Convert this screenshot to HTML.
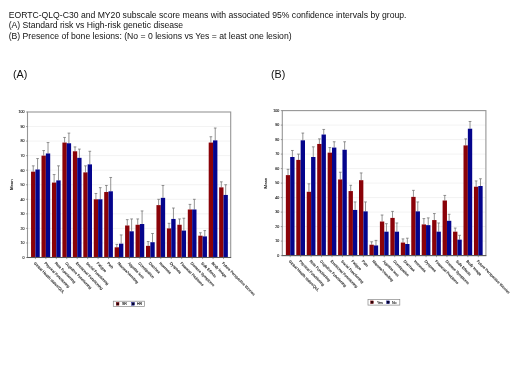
<!DOCTYPE html>
<html><head><meta charset="utf-8"><title>Figure</title>
<style>
html,body{margin:0;padding:0;background:#fff;}
body{width:520px;height:390px;overflow:hidden;position:relative;font-family:"Liberation Sans",sans-serif;}
.t{position:absolute;left:8.7px;top:10.0px;font-size:8.64px;line-height:10.25px;color:#111;white-space:nowrap;}
.l{position:absolute;font-size:10.8px;color:#111;line-height:12px;}
#w{position:absolute;left:0;top:0;width:520px;height:390px;filter:blur(0.6px);}
svg{position:absolute;left:0;top:0;font-family:"Liberation Sans",sans-serif;}
</style></head><body><div id="w">
<div class="t">EORTC-QLQ-C30 and MY20 subscale score means with associated 95% confidence intervals by group.<br>(A) Standard risk vs High-risk genetic disease<br>(B) Presence of bone lesions: (No = 0 lesions vs Yes = at least one lesion)</div>
<div class="l" style="left:12.9px;top:67.5px">(A)</div>
<div class="l" style="left:271px;top:67.5px">(B)</div>
<svg width="520" height="390" viewBox="0 0 520 390">
<line x1="27.5" y1="242.95" x2="230.7" y2="242.95" stroke="#e9e9e9" stroke-width="0.6"/>
<line x1="27.5" y1="228.40" x2="230.7" y2="228.40" stroke="#e9e9e9" stroke-width="0.6"/>
<line x1="27.5" y1="213.85" x2="230.7" y2="213.85" stroke="#e9e9e9" stroke-width="0.6"/>
<line x1="27.5" y1="199.30" x2="230.7" y2="199.30" stroke="#e9e9e9" stroke-width="0.6"/>
<line x1="27.5" y1="184.75" x2="230.7" y2="184.75" stroke="#e9e9e9" stroke-width="0.6"/>
<line x1="27.5" y1="170.20" x2="230.7" y2="170.20" stroke="#e9e9e9" stroke-width="0.6"/>
<line x1="27.5" y1="155.65" x2="230.7" y2="155.65" stroke="#e9e9e9" stroke-width="0.6"/>
<line x1="27.5" y1="141.10" x2="230.7" y2="141.10" stroke="#e9e9e9" stroke-width="0.6"/>
<line x1="27.5" y1="126.55" x2="230.7" y2="126.55" stroke="#e9e9e9" stroke-width="0.6"/>
<path d="M33.23 171.66V165.83M31.88 165.83H34.58" stroke="#707070" stroke-width="0.75" fill="none"/>
<path d="M37.57 169.47V158.56M36.22 158.56H38.92" stroke="#707070" stroke-width="0.75" fill="none"/>
<rect x="31.05" y="171.66" width="4.35" height="85.84" fill="#8a0208"/>
<rect x="35.40" y="169.47" width="4.35" height="88.03" fill="#04048c"/>
<line x1="35.40" y1="257.5" x2="35.40" y2="259.1" stroke="#666" stroke-width="0.6"/>
<text transform="translate(33.60 263.50) rotate(45.5)" font-size="3.76" fill="#111" stroke="#111" stroke-width="0.1">Global Health status/QoL</text>
<path d="M43.68 155.65V150.56M42.33 150.56H45.03" stroke="#707070" stroke-width="0.75" fill="none"/>
<path d="M48.02 153.47V142.56M46.67 142.56H49.38" stroke="#707070" stroke-width="0.75" fill="none"/>
<rect x="41.50" y="155.65" width="4.35" height="101.85" fill="#8a0208"/>
<rect x="45.85" y="153.47" width="4.35" height="104.03" fill="#04048c"/>
<line x1="45.85" y1="257.5" x2="45.85" y2="259.1" stroke="#666" stroke-width="0.6"/>
<text transform="translate(44.05 263.50) rotate(45.5)" font-size="3.76" fill="#111" stroke="#111" stroke-width="0.1">Physical Functioning</text>
<path d="M54.13 182.57V174.56M52.78 174.56H55.48" stroke="#707070" stroke-width="0.75" fill="none"/>
<path d="M58.48 180.38V165.83M57.12 165.83H59.83" stroke="#707070" stroke-width="0.75" fill="none"/>
<rect x="51.95" y="182.57" width="4.35" height="74.93" fill="#8a0208"/>
<rect x="56.30" y="180.38" width="4.35" height="77.12" fill="#04048c"/>
<line x1="56.30" y1="257.5" x2="56.30" y2="259.1" stroke="#666" stroke-width="0.6"/>
<text transform="translate(54.50 263.50) rotate(45.5)" font-size="3.76" fill="#111" stroke="#111" stroke-width="0.1">Role Functioning</text>
<path d="M64.58 142.56V137.46M63.23 137.46H65.92" stroke="#707070" stroke-width="0.75" fill="none"/>
<path d="M68.92 143.28V133.10M67.58 133.10H70.27" stroke="#707070" stroke-width="0.75" fill="none"/>
<rect x="62.40" y="142.56" width="4.35" height="114.94" fill="#8a0208"/>
<rect x="66.75" y="143.28" width="4.35" height="114.22" fill="#04048c"/>
<line x1="66.75" y1="257.5" x2="66.75" y2="259.1" stroke="#666" stroke-width="0.6"/>
<text transform="translate(64.95 263.50) rotate(45.5)" font-size="3.76" fill="#111" stroke="#111" stroke-width="0.1">Cognitive Functioning</text>
<path d="M75.02 151.28V146.92M73.67 146.92H76.37" stroke="#707070" stroke-width="0.75" fill="none"/>
<path d="M79.37 157.83V149.10M78.02 149.10H80.72" stroke="#707070" stroke-width="0.75" fill="none"/>
<rect x="72.85" y="151.28" width="4.35" height="106.22" fill="#8a0208"/>
<rect x="77.20" y="157.83" width="4.35" height="99.67" fill="#04048c"/>
<line x1="77.20" y1="257.5" x2="77.20" y2="259.1" stroke="#666" stroke-width="0.6"/>
<text transform="translate(75.40 263.50) rotate(45.5)" font-size="3.76" fill="#111" stroke="#111" stroke-width="0.1">Emotional Functioning</text>
<path d="M85.47 172.38V165.83M84.12 165.83H86.82" stroke="#707070" stroke-width="0.75" fill="none"/>
<path d="M89.82 164.38V151.28M88.47 151.28H91.17" stroke="#707070" stroke-width="0.75" fill="none"/>
<rect x="83.30" y="172.38" width="4.35" height="85.12" fill="#8a0208"/>
<rect x="87.65" y="164.38" width="4.35" height="93.12" fill="#04048c"/>
<line x1="87.65" y1="257.5" x2="87.65" y2="259.1" stroke="#666" stroke-width="0.6"/>
<text transform="translate(85.85 263.50) rotate(45.5)" font-size="3.76" fill="#111" stroke="#111" stroke-width="0.1">Social Functioning</text>
<path d="M95.92 199.30V193.48M94.58 193.48H97.27" stroke="#707070" stroke-width="0.75" fill="none"/>
<path d="M100.27 199.30V187.66M98.92 187.66H101.62" stroke="#707070" stroke-width="0.75" fill="none"/>
<rect x="93.75" y="199.30" width="4.35" height="58.20" fill="#8a0208"/>
<rect x="98.10" y="199.30" width="4.35" height="58.20" fill="#04048c"/>
<line x1="98.10" y1="257.5" x2="98.10" y2="259.1" stroke="#666" stroke-width="0.6"/>
<text transform="translate(96.30 263.50) rotate(45.5)" font-size="3.76" fill="#111" stroke="#111" stroke-width="0.1">Fatigue</text>
<path d="M106.37 192.02V185.48M105.02 185.48H107.72" stroke="#707070" stroke-width="0.75" fill="none"/>
<path d="M110.72 191.30V177.47M109.37 177.47H112.07" stroke="#707070" stroke-width="0.75" fill="none"/>
<rect x="104.20" y="192.02" width="4.35" height="65.48" fill="#8a0208"/>
<rect x="108.55" y="191.30" width="4.35" height="66.20" fill="#04048c"/>
<line x1="108.55" y1="257.5" x2="108.55" y2="259.1" stroke="#666" stroke-width="0.6"/>
<text transform="translate(106.75 263.50) rotate(45.5)" font-size="3.76" fill="#111" stroke="#111" stroke-width="0.1">Pain</text>
<path d="M116.82 247.31V244.41M115.47 244.41H118.17" stroke="#707070" stroke-width="0.75" fill="none"/>
<path d="M121.17 243.68V234.95M119.82 234.95H122.52" stroke="#707070" stroke-width="0.75" fill="none"/>
<rect x="114.65" y="247.31" width="4.35" height="10.19" fill="#8a0208"/>
<rect x="119.00" y="243.68" width="4.35" height="13.82" fill="#04048c"/>
<line x1="119.00" y1="257.5" x2="119.00" y2="259.1" stroke="#666" stroke-width="0.6"/>
<text transform="translate(117.20 263.50) rotate(45.5)" font-size="3.76" fill="#111" stroke="#111" stroke-width="0.1">Nausea/Vomiting</text>
<path d="M127.27 225.49V219.67M125.92 219.67H128.62" stroke="#707070" stroke-width="0.75" fill="none"/>
<path d="M131.62 231.31V218.94M130.28 218.94H132.97" stroke="#707070" stroke-width="0.75" fill="none"/>
<rect x="125.10" y="225.49" width="4.35" height="32.01" fill="#8a0208"/>
<rect x="129.45" y="231.31" width="4.35" height="26.19" fill="#04048c"/>
<line x1="129.45" y1="257.5" x2="129.45" y2="259.1" stroke="#666" stroke-width="0.6"/>
<text transform="translate(127.65 263.50) rotate(45.5)" font-size="3.76" fill="#111" stroke="#111" stroke-width="0.1">Appetite loss</text>
<path d="M137.72 224.76V218.94M136.38 218.94H139.07" stroke="#707070" stroke-width="0.75" fill="none"/>
<path d="M142.08 224.03V210.94M140.73 210.94H143.43" stroke="#707070" stroke-width="0.75" fill="none"/>
<rect x="135.55" y="224.76" width="4.35" height="32.74" fill="#8a0208"/>
<rect x="139.90" y="224.03" width="4.35" height="33.47" fill="#04048c"/>
<line x1="139.90" y1="257.5" x2="139.90" y2="259.1" stroke="#666" stroke-width="0.6"/>
<text transform="translate(138.10 263.50) rotate(45.5)" font-size="3.76" fill="#111" stroke="#111" stroke-width="0.1">Constipation</text>
<path d="M148.17 245.86V241.50M146.82 241.50H149.52" stroke="#707070" stroke-width="0.75" fill="none"/>
<path d="M152.53 242.22V233.49M151.18 233.49H153.88" stroke="#707070" stroke-width="0.75" fill="none"/>
<rect x="146.00" y="245.86" width="4.35" height="11.64" fill="#8a0208"/>
<rect x="150.35" y="242.22" width="4.35" height="15.28" fill="#04048c"/>
<line x1="150.35" y1="257.5" x2="150.35" y2="259.1" stroke="#666" stroke-width="0.6"/>
<text transform="translate(148.55 263.50) rotate(45.5)" font-size="3.76" fill="#111" stroke="#111" stroke-width="0.1">Diarrhea</text>
<path d="M158.62 205.12V199.30M157.27 199.30H159.97" stroke="#707070" stroke-width="0.75" fill="none"/>
<path d="M162.97 197.84V185.48M161.62 185.48H164.32" stroke="#707070" stroke-width="0.75" fill="none"/>
<rect x="156.45" y="205.12" width="4.35" height="52.38" fill="#8a0208"/>
<rect x="160.80" y="197.84" width="4.35" height="59.66" fill="#04048c"/>
<line x1="160.80" y1="257.5" x2="160.80" y2="259.1" stroke="#666" stroke-width="0.6"/>
<text transform="translate(159.00 263.50) rotate(45.5)" font-size="3.76" fill="#111" stroke="#111" stroke-width="0.1">Insomnia</text>
<path d="M169.07 228.40V223.31M167.72 223.31H170.42" stroke="#707070" stroke-width="0.75" fill="none"/>
<path d="M173.43 218.94V208.03M172.08 208.03H174.78" stroke="#707070" stroke-width="0.75" fill="none"/>
<rect x="166.90" y="228.40" width="4.35" height="29.10" fill="#8a0208"/>
<rect x="171.25" y="218.94" width="4.35" height="38.56" fill="#04048c"/>
<line x1="171.25" y1="257.5" x2="171.25" y2="259.1" stroke="#666" stroke-width="0.6"/>
<text transform="translate(169.45 263.50) rotate(45.5)" font-size="3.76" fill="#111" stroke="#111" stroke-width="0.1">Dyspnea</text>
<path d="M179.52 224.76V218.94M178.17 218.94H180.87" stroke="#707070" stroke-width="0.75" fill="none"/>
<path d="M183.88 230.58V218.22M182.53 218.22H185.22" stroke="#707070" stroke-width="0.75" fill="none"/>
<rect x="177.35" y="224.76" width="4.35" height="32.74" fill="#8a0208"/>
<rect x="181.70" y="230.58" width="4.35" height="26.92" fill="#04048c"/>
<line x1="181.70" y1="257.5" x2="181.70" y2="259.1" stroke="#666" stroke-width="0.6"/>
<text transform="translate(179.90 263.50) rotate(45.5)" font-size="3.76" fill="#111" stroke="#111" stroke-width="0.1">Financial Problems</text>
<path d="M189.97 209.49V204.39M188.62 204.39H191.32" stroke="#707070" stroke-width="0.75" fill="none"/>
<path d="M194.33 209.49V199.30M192.98 199.30H195.68" stroke="#707070" stroke-width="0.75" fill="none"/>
<rect x="187.80" y="209.49" width="4.35" height="48.01" fill="#8a0208"/>
<rect x="192.15" y="209.49" width="4.35" height="48.01" fill="#04048c"/>
<line x1="192.15" y1="257.5" x2="192.15" y2="259.1" stroke="#666" stroke-width="0.6"/>
<text transform="translate(190.35 263.50) rotate(45.5)" font-size="3.76" fill="#111" stroke="#111" stroke-width="0.1">Disease Symptoms</text>
<path d="M200.42 235.68V232.76M199.07 232.76H201.77" stroke="#707070" stroke-width="0.75" fill="none"/>
<path d="M204.78 236.40V230.58M203.43 230.58H206.12" stroke="#707070" stroke-width="0.75" fill="none"/>
<rect x="198.25" y="235.68" width="4.35" height="21.82" fill="#8a0208"/>
<rect x="202.60" y="236.40" width="4.35" height="21.10" fill="#04048c"/>
<line x1="202.60" y1="257.5" x2="202.60" y2="259.1" stroke="#666" stroke-width="0.6"/>
<text transform="translate(200.80 263.50) rotate(45.5)" font-size="3.76" fill="#111" stroke="#111" stroke-width="0.1">Side Effects</text>
<path d="M210.87 142.56V136.74M209.52 136.74H212.22" stroke="#707070" stroke-width="0.75" fill="none"/>
<path d="M215.22 140.37V128.00M213.88 128.00H216.57" stroke="#707070" stroke-width="0.75" fill="none"/>
<rect x="208.70" y="142.56" width="4.35" height="114.94" fill="#8a0208"/>
<rect x="213.05" y="140.37" width="4.35" height="117.13" fill="#04048c"/>
<line x1="213.05" y1="257.5" x2="213.05" y2="259.1" stroke="#666" stroke-width="0.6"/>
<text transform="translate(211.25 263.50) rotate(45.5)" font-size="3.76" fill="#111" stroke="#111" stroke-width="0.1">Body Image</text>
<path d="M221.32 187.37V181.84M219.97 181.84H222.67" stroke="#707070" stroke-width="0.75" fill="none"/>
<path d="M225.68 194.94V184.75M224.33 184.75H227.03" stroke="#707070" stroke-width="0.75" fill="none"/>
<rect x="219.15" y="187.37" width="4.35" height="70.13" fill="#8a0208"/>
<rect x="223.50" y="194.94" width="4.35" height="62.56" fill="#04048c"/>
<line x1="223.50" y1="257.5" x2="223.50" y2="259.1" stroke="#666" stroke-width="0.6"/>
<text transform="translate(221.70 263.50) rotate(45.5)" font-size="3.76" fill="#111" stroke="#111" stroke-width="0.1">Future Perspective Worries</text>
<rect x="27.5" y="112" width="203.2" height="145.5" fill="none" stroke="#969696" stroke-width="1.1"/>
<line x1="27.1" y1="257.5" x2="231.1" y2="257.5" stroke="#555" stroke-width="0.9"/>
<line x1="26.0" y1="257.50" x2="27.5" y2="257.50" stroke="#666" stroke-width="0.6"/>
<text x="24.4" y="258.85" font-size="3.6" text-anchor="end" fill="#111" stroke="#111" stroke-width="0.1">0</text>
<line x1="26.0" y1="242.95" x2="27.5" y2="242.95" stroke="#666" stroke-width="0.6"/>
<text x="24.4" y="244.30" font-size="3.6" text-anchor="end" fill="#111" stroke="#111" stroke-width="0.1">10</text>
<line x1="26.0" y1="228.40" x2="27.5" y2="228.40" stroke="#666" stroke-width="0.6"/>
<text x="24.4" y="229.75" font-size="3.6" text-anchor="end" fill="#111" stroke="#111" stroke-width="0.1">20</text>
<line x1="26.0" y1="213.85" x2="27.5" y2="213.85" stroke="#666" stroke-width="0.6"/>
<text x="24.4" y="215.20" font-size="3.6" text-anchor="end" fill="#111" stroke="#111" stroke-width="0.1">30</text>
<line x1="26.0" y1="199.30" x2="27.5" y2="199.30" stroke="#666" stroke-width="0.6"/>
<text x="24.4" y="200.65" font-size="3.6" text-anchor="end" fill="#111" stroke="#111" stroke-width="0.1">40</text>
<line x1="26.0" y1="184.75" x2="27.5" y2="184.75" stroke="#666" stroke-width="0.6"/>
<text x="24.4" y="186.10" font-size="3.6" text-anchor="end" fill="#111" stroke="#111" stroke-width="0.1">50</text>
<line x1="26.0" y1="170.20" x2="27.5" y2="170.20" stroke="#666" stroke-width="0.6"/>
<text x="24.4" y="171.55" font-size="3.6" text-anchor="end" fill="#111" stroke="#111" stroke-width="0.1">60</text>
<line x1="26.0" y1="155.65" x2="27.5" y2="155.65" stroke="#666" stroke-width="0.6"/>
<text x="24.4" y="157.00" font-size="3.6" text-anchor="end" fill="#111" stroke="#111" stroke-width="0.1">70</text>
<line x1="26.0" y1="141.10" x2="27.5" y2="141.10" stroke="#666" stroke-width="0.6"/>
<text x="24.4" y="142.45" font-size="3.6" text-anchor="end" fill="#111" stroke="#111" stroke-width="0.1">80</text>
<line x1="26.0" y1="126.55" x2="27.5" y2="126.55" stroke="#666" stroke-width="0.6"/>
<text x="24.4" y="127.90" font-size="3.6" text-anchor="end" fill="#111" stroke="#111" stroke-width="0.1">90</text>
<line x1="26.0" y1="112.00" x2="27.5" y2="112.00" stroke="#666" stroke-width="0.6"/>
<text x="24.4" y="113.35" font-size="3.6" text-anchor="end" fill="#111" stroke="#111" stroke-width="0.1">100</text>
<text transform="translate(12.6 184.75) rotate(-90)" font-size="4.25" text-anchor="middle" fill="#111" stroke="#111" stroke-width="0.08">Mean</text>
<rect x="113.3" y="301.2" width="31.1" height="5.2" fill="none" stroke="#888" stroke-width="0.7"/>
<rect x="116.2" y="302.40000000000003" width="2.8" height="2.8" fill="#2a0004" stroke="#8a0208" stroke-width="0.4"/>
<text x="121.89999999999999" y="305.1" font-size="3.6" fill="#111" stroke="#111" stroke-width="0.1">SR</text>
<rect x="131.7" y="302.40000000000003" width="2.8" height="2.8" fill="#02022a" stroke="#04048c" stroke-width="0.4"/>
<text x="136.9" y="305.1" font-size="3.6" fill="#111" stroke="#111" stroke-width="0.1">HR</text>
<line x1="282.3" y1="241.10" x2="485.9" y2="241.10" stroke="#e9e9e9" stroke-width="0.6"/>
<line x1="282.3" y1="226.60" x2="485.9" y2="226.60" stroke="#e9e9e9" stroke-width="0.6"/>
<line x1="282.3" y1="212.10" x2="485.9" y2="212.10" stroke="#e9e9e9" stroke-width="0.6"/>
<line x1="282.3" y1="197.60" x2="485.9" y2="197.60" stroke="#e9e9e9" stroke-width="0.6"/>
<line x1="282.3" y1="183.10" x2="485.9" y2="183.10" stroke="#e9e9e9" stroke-width="0.6"/>
<line x1="282.3" y1="168.60" x2="485.9" y2="168.60" stroke="#e9e9e9" stroke-width="0.6"/>
<line x1="282.3" y1="154.10" x2="485.9" y2="154.10" stroke="#e9e9e9" stroke-width="0.6"/>
<line x1="282.3" y1="139.60" x2="485.9" y2="139.60" stroke="#e9e9e9" stroke-width="0.6"/>
<line x1="282.3" y1="125.10" x2="485.9" y2="125.10" stroke="#e9e9e9" stroke-width="0.6"/>
<path d="M288.03 175.12V169.32M286.68 169.32H289.38" stroke="#707070" stroke-width="0.75" fill="none"/>
<path d="M292.38 157.00V150.47M291.03 150.47H293.73" stroke="#707070" stroke-width="0.75" fill="none"/>
<rect x="285.85" y="175.12" width="4.35" height="80.47" fill="#8a0208"/>
<rect x="290.20" y="157.00" width="4.35" height="98.60" fill="#04048c"/>
<line x1="290.20" y1="255.6" x2="290.20" y2="257.2" stroke="#666" stroke-width="0.6"/>
<text transform="translate(288.40 261.60) rotate(45.5)" font-size="3.76" fill="#111" stroke="#111" stroke-width="0.1">Global Health status/QoL</text>
<path d="M298.48 159.90V154.10M297.12 154.10H299.83" stroke="#707070" stroke-width="0.75" fill="none"/>
<path d="M302.83 140.32V133.07M301.48 133.07H304.18" stroke="#707070" stroke-width="0.75" fill="none"/>
<rect x="296.30" y="159.90" width="4.35" height="95.70" fill="#8a0208"/>
<rect x="300.65" y="140.32" width="4.35" height="115.28" fill="#04048c"/>
<line x1="300.65" y1="255.6" x2="300.65" y2="257.2" stroke="#666" stroke-width="0.6"/>
<text transform="translate(298.85 261.60) rotate(45.5)" font-size="3.76" fill="#111" stroke="#111" stroke-width="0.1">Physical Functioning</text>
<path d="M308.93 191.80V183.82M307.57 183.82H310.28" stroke="#707070" stroke-width="0.75" fill="none"/>
<path d="M313.28 157.00V146.85M311.93 146.85H314.63" stroke="#707070" stroke-width="0.75" fill="none"/>
<rect x="306.75" y="191.80" width="4.35" height="63.80" fill="#8a0208"/>
<rect x="311.10" y="157.00" width="4.35" height="98.60" fill="#04048c"/>
<line x1="311.10" y1="255.6" x2="311.10" y2="257.2" stroke="#666" stroke-width="0.6"/>
<text transform="translate(309.30 261.60) rotate(45.5)" font-size="3.76" fill="#111" stroke="#111" stroke-width="0.1">Role Functioning</text>
<path d="M319.38 143.95V138.88M318.03 138.88H320.73" stroke="#707070" stroke-width="0.75" fill="none"/>
<path d="M323.73 134.53V129.45M322.38 129.45H325.08" stroke="#707070" stroke-width="0.75" fill="none"/>
<rect x="317.20" y="143.95" width="4.35" height="111.65" fill="#8a0208"/>
<rect x="321.55" y="134.53" width="4.35" height="121.07" fill="#04048c"/>
<line x1="321.55" y1="255.6" x2="321.55" y2="257.2" stroke="#666" stroke-width="0.6"/>
<text transform="translate(319.75 261.60) rotate(45.5)" font-size="3.76" fill="#111" stroke="#111" stroke-width="0.1">Cognitive Functioning</text>
<path d="M329.83 152.65V147.57M328.48 147.57H331.18" stroke="#707070" stroke-width="0.75" fill="none"/>
<path d="M334.18 147.57V141.77M332.83 141.77H335.53" stroke="#707070" stroke-width="0.75" fill="none"/>
<rect x="327.65" y="152.65" width="4.35" height="102.95" fill="#8a0208"/>
<rect x="332.00" y="147.57" width="4.35" height="108.03" fill="#04048c"/>
<line x1="332.00" y1="255.6" x2="332.00" y2="257.2" stroke="#666" stroke-width="0.6"/>
<text transform="translate(330.20 261.60) rotate(45.5)" font-size="3.76" fill="#111" stroke="#111" stroke-width="0.1">Emotional Functioning</text>
<path d="M340.28 179.47V172.22M338.93 172.22H341.63" stroke="#707070" stroke-width="0.75" fill="none"/>
<path d="M344.63 149.75V141.77M343.28 141.77H345.98" stroke="#707070" stroke-width="0.75" fill="none"/>
<rect x="338.10" y="179.47" width="4.35" height="76.12" fill="#8a0208"/>
<rect x="342.45" y="149.75" width="4.35" height="105.85" fill="#04048c"/>
<line x1="342.45" y1="255.6" x2="342.45" y2="257.2" stroke="#666" stroke-width="0.6"/>
<text transform="translate(340.65 261.60) rotate(45.5)" font-size="3.76" fill="#111" stroke="#111" stroke-width="0.1">Social Functioning</text>
<path d="M350.73 191.07V185.27M349.38 185.27H352.08" stroke="#707070" stroke-width="0.75" fill="none"/>
<path d="M355.08 209.93V201.95M353.73 201.95H356.43" stroke="#707070" stroke-width="0.75" fill="none"/>
<rect x="348.55" y="191.07" width="4.35" height="64.53" fill="#8a0208"/>
<rect x="352.90" y="209.93" width="4.35" height="45.67" fill="#04048c"/>
<line x1="352.90" y1="255.6" x2="352.90" y2="257.2" stroke="#666" stroke-width="0.6"/>
<text transform="translate(351.10 261.60) rotate(45.5)" font-size="3.76" fill="#111" stroke="#111" stroke-width="0.1">Fatigue</text>
<path d="M361.18 180.20V172.95M359.82 172.95H362.53" stroke="#707070" stroke-width="0.75" fill="none"/>
<path d="M365.53 211.38V201.95M364.18 201.95H366.88" stroke="#707070" stroke-width="0.75" fill="none"/>
<rect x="359.00" y="180.20" width="4.35" height="75.40" fill="#8a0208"/>
<rect x="363.35" y="211.38" width="4.35" height="44.22" fill="#04048c"/>
<line x1="363.35" y1="255.6" x2="363.35" y2="257.2" stroke="#666" stroke-width="0.6"/>
<text transform="translate(361.55 261.60) rotate(45.5)" font-size="3.76" fill="#111" stroke="#111" stroke-width="0.1">Pain</text>
<path d="M371.63 244.72V241.82M370.28 241.82H372.98" stroke="#707070" stroke-width="0.75" fill="none"/>
<path d="M375.98 245.45V240.38M374.63 240.38H377.33" stroke="#707070" stroke-width="0.75" fill="none"/>
<rect x="369.45" y="244.72" width="4.35" height="10.88" fill="#8a0208"/>
<rect x="373.80" y="245.45" width="4.35" height="10.15" fill="#04048c"/>
<line x1="373.80" y1="255.6" x2="373.80" y2="257.2" stroke="#666" stroke-width="0.6"/>
<text transform="translate(372.00 261.60) rotate(45.5)" font-size="3.76" fill="#111" stroke="#111" stroke-width="0.1">Nausea/Vomiting</text>
<path d="M382.08 221.53V215.00M380.73 215.00H383.43" stroke="#707070" stroke-width="0.75" fill="none"/>
<path d="M386.43 231.67V223.70M385.08 223.70H387.78" stroke="#707070" stroke-width="0.75" fill="none"/>
<rect x="379.90" y="221.53" width="4.35" height="34.07" fill="#8a0208"/>
<rect x="384.25" y="231.67" width="4.35" height="23.93" fill="#04048c"/>
<line x1="384.25" y1="255.6" x2="384.25" y2="257.2" stroke="#666" stroke-width="0.6"/>
<text transform="translate(382.45 261.60) rotate(45.5)" font-size="3.76" fill="#111" stroke="#111" stroke-width="0.1">Appetite loss</text>
<path d="M392.53 217.90V211.38M391.18 211.38H393.88" stroke="#707070" stroke-width="0.75" fill="none"/>
<path d="M396.88 231.67V222.97M395.53 222.97H398.23" stroke="#707070" stroke-width="0.75" fill="none"/>
<rect x="390.35" y="217.90" width="4.35" height="37.70" fill="#8a0208"/>
<rect x="394.70" y="231.67" width="4.35" height="23.93" fill="#04048c"/>
<line x1="394.70" y1="255.6" x2="394.70" y2="257.2" stroke="#666" stroke-width="0.6"/>
<text transform="translate(392.90 261.60) rotate(45.5)" font-size="3.76" fill="#111" stroke="#111" stroke-width="0.1">Constipation</text>
<path d="M402.98 242.55V238.92M401.62 238.92H404.33" stroke="#707070" stroke-width="0.75" fill="none"/>
<path d="M407.33 244.00V238.20M405.98 238.20H408.68" stroke="#707070" stroke-width="0.75" fill="none"/>
<rect x="400.80" y="242.55" width="4.35" height="13.05" fill="#8a0208"/>
<rect x="405.15" y="244.00" width="4.35" height="11.60" fill="#04048c"/>
<line x1="405.15" y1="255.6" x2="405.15" y2="257.2" stroke="#666" stroke-width="0.6"/>
<text transform="translate(403.35 261.60) rotate(45.5)" font-size="3.76" fill="#111" stroke="#111" stroke-width="0.1">Diarrhea</text>
<path d="M413.43 196.88V190.35M412.07 190.35H414.78" stroke="#707070" stroke-width="0.75" fill="none"/>
<path d="M417.78 211.38V201.95M416.43 201.95H419.13" stroke="#707070" stroke-width="0.75" fill="none"/>
<rect x="411.25" y="196.88" width="4.35" height="58.72" fill="#8a0208"/>
<rect x="415.60" y="211.38" width="4.35" height="44.22" fill="#04048c"/>
<line x1="415.60" y1="255.6" x2="415.60" y2="257.2" stroke="#666" stroke-width="0.6"/>
<text transform="translate(413.80 261.60) rotate(45.5)" font-size="3.76" fill="#111" stroke="#111" stroke-width="0.1">Insomnia</text>
<path d="M423.88 224.42V218.62M422.53 218.62H425.23" stroke="#707070" stroke-width="0.75" fill="none"/>
<path d="M428.23 225.15V217.90M426.88 217.90H429.58" stroke="#707070" stroke-width="0.75" fill="none"/>
<rect x="421.70" y="224.42" width="4.35" height="31.18" fill="#8a0208"/>
<rect x="426.05" y="225.15" width="4.35" height="30.45" fill="#04048c"/>
<line x1="426.05" y1="255.6" x2="426.05" y2="257.2" stroke="#666" stroke-width="0.6"/>
<text transform="translate(424.25 261.60) rotate(45.5)" font-size="3.76" fill="#111" stroke="#111" stroke-width="0.1">Dyspnea</text>
<path d="M434.32 220.07V213.55M432.97 213.55H435.68" stroke="#707070" stroke-width="0.75" fill="none"/>
<path d="M438.68 231.67V222.97M437.32 222.97H440.03" stroke="#707070" stroke-width="0.75" fill="none"/>
<rect x="432.15" y="220.07" width="4.35" height="35.53" fill="#8a0208"/>
<rect x="436.50" y="231.67" width="4.35" height="23.93" fill="#04048c"/>
<line x1="436.50" y1="255.6" x2="436.50" y2="257.2" stroke="#666" stroke-width="0.6"/>
<text transform="translate(434.70 261.60) rotate(45.5)" font-size="3.76" fill="#111" stroke="#111" stroke-width="0.1">Financial Problems</text>
<path d="M444.78 200.50V195.43M443.43 195.43H446.13" stroke="#707070" stroke-width="0.75" fill="none"/>
<path d="M449.13 220.80V214.28M447.78 214.28H450.48" stroke="#707070" stroke-width="0.75" fill="none"/>
<rect x="442.60" y="200.50" width="4.35" height="55.10" fill="#8a0208"/>
<rect x="446.95" y="220.80" width="4.35" height="34.80" fill="#04048c"/>
<line x1="446.95" y1="255.6" x2="446.95" y2="257.2" stroke="#666" stroke-width="0.6"/>
<text transform="translate(445.15 261.60) rotate(45.5)" font-size="3.76" fill="#111" stroke="#111" stroke-width="0.1">Disease Symptoms</text>
<path d="M455.23 231.67V228.05M453.88 228.05H456.58" stroke="#707070" stroke-width="0.75" fill="none"/>
<path d="M459.58 239.65V235.30M458.23 235.30H460.93" stroke="#707070" stroke-width="0.75" fill="none"/>
<rect x="453.05" y="231.67" width="4.35" height="23.93" fill="#8a0208"/>
<rect x="457.40" y="239.65" width="4.35" height="15.95" fill="#04048c"/>
<line x1="457.40" y1="255.6" x2="457.40" y2="257.2" stroke="#666" stroke-width="0.6"/>
<text transform="translate(455.60 261.60) rotate(45.5)" font-size="3.76" fill="#111" stroke="#111" stroke-width="0.1">Side Effects</text>
<path d="M465.68 145.40V138.88M464.32 138.88H467.03" stroke="#707070" stroke-width="0.75" fill="none"/>
<path d="M470.03 128.72V121.47M468.68 121.47H471.38" stroke="#707070" stroke-width="0.75" fill="none"/>
<rect x="463.50" y="145.40" width="4.35" height="110.20" fill="#8a0208"/>
<rect x="467.85" y="128.72" width="4.35" height="126.88" fill="#04048c"/>
<line x1="467.85" y1="255.6" x2="467.85" y2="257.2" stroke="#666" stroke-width="0.6"/>
<text transform="translate(466.05 261.60) rotate(45.5)" font-size="3.76" fill="#111" stroke="#111" stroke-width="0.1">Body Image</text>
<path d="M476.13 186.72V180.93M474.78 180.93H477.48" stroke="#707070" stroke-width="0.75" fill="none"/>
<path d="M480.48 186.00V178.75M479.13 178.75H481.83" stroke="#707070" stroke-width="0.75" fill="none"/>
<rect x="473.95" y="186.72" width="4.35" height="68.88" fill="#8a0208"/>
<rect x="478.30" y="186.00" width="4.35" height="69.60" fill="#04048c"/>
<line x1="478.30" y1="255.6" x2="478.30" y2="257.2" stroke="#666" stroke-width="0.6"/>
<text transform="translate(476.50 261.60) rotate(45.5)" font-size="3.76" fill="#111" stroke="#111" stroke-width="0.1">Future Perspective Worries</text>
<rect x="282.3" y="110.6" width="203.59999999999997" height="145.0" fill="none" stroke="#969696" stroke-width="1.1"/>
<line x1="281.90000000000003" y1="255.6" x2="486.29999999999995" y2="255.6" stroke="#555" stroke-width="0.9"/>
<line x1="280.8" y1="255.60" x2="282.3" y2="255.60" stroke="#666" stroke-width="0.6"/>
<text x="279.2" y="256.95" font-size="3.6" text-anchor="end" fill="#111" stroke="#111" stroke-width="0.1">0</text>
<line x1="280.8" y1="241.10" x2="282.3" y2="241.10" stroke="#666" stroke-width="0.6"/>
<text x="279.2" y="242.45" font-size="3.6" text-anchor="end" fill="#111" stroke="#111" stroke-width="0.1">10</text>
<line x1="280.8" y1="226.60" x2="282.3" y2="226.60" stroke="#666" stroke-width="0.6"/>
<text x="279.2" y="227.95" font-size="3.6" text-anchor="end" fill="#111" stroke="#111" stroke-width="0.1">20</text>
<line x1="280.8" y1="212.10" x2="282.3" y2="212.10" stroke="#666" stroke-width="0.6"/>
<text x="279.2" y="213.45" font-size="3.6" text-anchor="end" fill="#111" stroke="#111" stroke-width="0.1">30</text>
<line x1="280.8" y1="197.60" x2="282.3" y2="197.60" stroke="#666" stroke-width="0.6"/>
<text x="279.2" y="198.95" font-size="3.6" text-anchor="end" fill="#111" stroke="#111" stroke-width="0.1">40</text>
<line x1="280.8" y1="183.10" x2="282.3" y2="183.10" stroke="#666" stroke-width="0.6"/>
<text x="279.2" y="184.45" font-size="3.6" text-anchor="end" fill="#111" stroke="#111" stroke-width="0.1">50</text>
<line x1="280.8" y1="168.60" x2="282.3" y2="168.60" stroke="#666" stroke-width="0.6"/>
<text x="279.2" y="169.95" font-size="3.6" text-anchor="end" fill="#111" stroke="#111" stroke-width="0.1">60</text>
<line x1="280.8" y1="154.10" x2="282.3" y2="154.10" stroke="#666" stroke-width="0.6"/>
<text x="279.2" y="155.45" font-size="3.6" text-anchor="end" fill="#111" stroke="#111" stroke-width="0.1">70</text>
<line x1="280.8" y1="139.60" x2="282.3" y2="139.60" stroke="#666" stroke-width="0.6"/>
<text x="279.2" y="140.95" font-size="3.6" text-anchor="end" fill="#111" stroke="#111" stroke-width="0.1">80</text>
<line x1="280.8" y1="125.10" x2="282.3" y2="125.10" stroke="#666" stroke-width="0.6"/>
<text x="279.2" y="126.45" font-size="3.6" text-anchor="end" fill="#111" stroke="#111" stroke-width="0.1">90</text>
<line x1="280.8" y1="110.60" x2="282.3" y2="110.60" stroke="#666" stroke-width="0.6"/>
<text x="279.2" y="111.95" font-size="3.6" text-anchor="end" fill="#111" stroke="#111" stroke-width="0.1">100</text>
<text transform="translate(267.40000000000003 183.10) rotate(-90)" font-size="4.25" text-anchor="middle" fill="#111" stroke="#111" stroke-width="0.08">Mean</text>
<rect x="368" y="299.5" width="31.8" height="5.6" fill="none" stroke="#888" stroke-width="0.7"/>
<rect x="370.6" y="300.90000000000003" width="2.8" height="2.8" fill="#2a0004" stroke="#8a0208" stroke-width="0.4"/>
<text x="376.9" y="303.6" font-size="3.6" fill="#111" stroke="#111" stroke-width="0.1">Yes</text>
<rect x="386.7" y="300.90000000000003" width="2.8" height="2.8" fill="#02022a" stroke="#04048c" stroke-width="0.4"/>
<text x="391.9" y="303.6" font-size="3.6" fill="#111" stroke="#111" stroke-width="0.1">No</text>
</svg>
</div></body></html>
